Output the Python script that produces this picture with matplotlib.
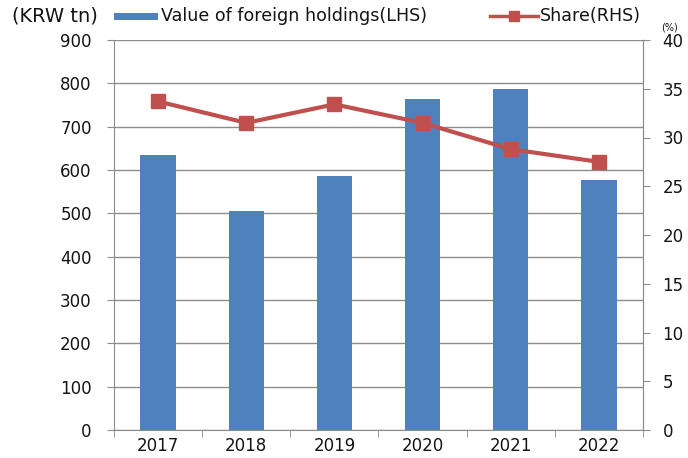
import matplotlib
matplotlib.use("Agg")
import matplotlib.pyplot as plt
from matplotlib.patches import Rectangle
from matplotlib.lines import Line2D

years = ["2017", "2018", "2019", "2020", "2021", "2022"]
holdings = [635, 505, 587, 764, 786, 576]
share = [33.7, 31.5, 33.4, 31.5, 28.8, 27.5]

plt.rcParams['font.family'] = ['DejaVu Sans']

blue = '#4F81BD'
red = '#C0504D'
grid_c = '#8C8C8C'
txt_c = '#141414'

W, H = 688, 458
fig = plt.figure(figsize=(W / 100, H / 100), dpi=100)
ax = fig.add_axes([114/W, 28/H, (643-114)/W, 390/H])
x = list(range(len(years)))
ax.bar(x, holdings, width=0.4, color=blue, zorder=2)
ax.set_ylim(0, 900)
ax.set_yticks(range(0, 901, 100))
ax.set_xlim(-0.5, len(years) - 0.5)
ax.set_xticks(x)
ax.set_xticklabels(years)
ax.set_xticks([i + 0.5 for i in range(-1, len(years))], minor=True)
ax.tick_params(axis='x', which='major', length=0, labelsize=12, pad=5, labelcolor=txt_c)
ax.tick_params(axis='x', which='minor', length=5, color=grid_c, direction='out')
ax.tick_params(axis='y', labelsize=12, length=5, color=grid_c, pad=11, labelcolor=txt_c)
ax.grid(axis='y', color=grid_c, linewidth=1, zorder=0)
for s in ['left', 'bottom']:
    ax.spines[s].set_color(grid_c)
ax.spines['top'].set_visible(False)
ax.spines['right'].set_color(grid_c)

ax2 = ax.twinx()
ax2.plot(x, share, color=red, linewidth=3, marker='s', markersize=9.5,
         markerfacecolor=red, markeredgecolor=red, zorder=3)
ax2.set_ylim(0, 40)
ax2.set_yticks(range(0, 41, 5))
ax2.tick_params(axis='y', labelsize=12, length=5, color=grid_c, pad=9, labelcolor=txt_c)
ax2.spines['top'].set_visible(False)
ax2.spines['right'].set_color(grid_c)
ax2.spines['left'].set_visible(False)
ax2.spines['bottom'].set_visible(False)

# header texts
ly = 1 - 16/H
fig.text(12/W, ly, "(KRW tn)", fontsize=14, va='center', ha='left', color=txt_c)
fig.text(669/W, 1 - 28/H, "(%)", fontsize=7, va='center', ha='center', color=txt_c)

# manual legend
fig.patches.append(Rectangle((114/W, 1 - 19.5/H), 44/W, 7/H, transform=fig.transFigure,
                             facecolor=blue, edgecolor='none'))
fig.text(161/W, ly, "Value of foreign holdings(LHS)", fontsize=12.6, va='center',
         ha='left', color=txt_c)
fig.lines.append(Line2D([490/W, 538/W], [ly, ly], transform=fig.transFigure,
                        color=red, linewidth=2.5))
fig.lines.append(Line2D([514/W], [ly], transform=fig.transFigure, color=red,
                        marker='s', markersize=7, linestyle='none'))
fig.text(540/W, ly, "Share(RHS)", fontsize=12.6, va='center', ha='left', color=txt_c)

fig.savefig("out.png", dpi=100)
